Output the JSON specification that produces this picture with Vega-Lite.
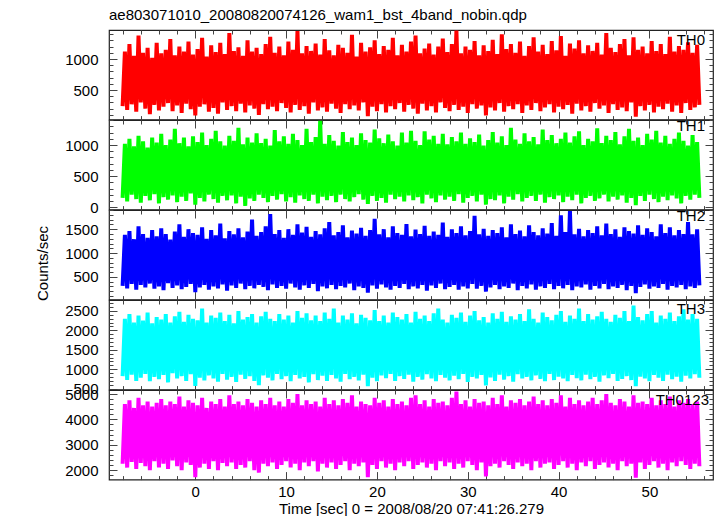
{
  "$schema": "https://vega.github.io/schema/vega-lite/v6.json",
  "background": "white",
  "padding": {"left": 35, "top": 7, "right": 6, "bottom": 0},
  "title": {"text": "ae803071010_20080820074126_wam1_bst_4band_nobin.qdp", "anchor": "start", "frame": "group", "font": "Liberation Sans", "fontSize": 15, "fontWeight": "normal", "color": "black", "offset": 4},
  "spacing": 0,
  "bounds": "flush",
  "data": {"values": [
{"t":-8,"a":240,"b":150,"c":310,"d":820,"e":2250},
{"t":-7.75,"a":1120,"b":1020,"c":1380,"d":2300,"e":4600},
{"t":-7.5,"a":180,"b":90,"c":260,"d":720,"e":2100},
{"t":-7.25,"a":1240,"b":1100,"c":1460,"d":2420,"e":4750},
{"t":-7,"a":270,"b":200,"c":350,"d":860,"e":2320},
{"t":-6.75,"a":1050,"b":980,"c":1290,"d":2200,"e":4450},
{"t":-6.5,"a":150,"b":130,"c":230,"d":700,"e":2050},
{"t":-6.25,"a":1380,"b":1150,"c":1560,"d":2380,"e":4850},
{"t":-6,"a":300,"b":70,"c":330,"d":780,"e":2280},
{"t":-5.75,"a":1100,"b":1060,"c":1400,"d":2250,"e":4550},
{"t":-5.5,"a":200,"b":180,"c":280,"d":880,"e":2150},
{"t":-5.25,"a":1180,"b":960,"c":1320,"d":2460,"e":4700},
{"t":-5,"a":110,"b":110,"c":360,"d":690,"e":2000},
{"t":-4.75,"a":1020,"b":1120,"c":1480,"d":2180,"e":4500},
{"t":-4.5,"a":260,"b":210,"c":250,"d":800,"e":2350},
{"t":-4.25,"a":1260,"b":1040,"c":1350,"d":2340,"e":4650},
{"t":-4,"a":170,"b":60,"c":300,"d":740,"e":2100},
{"t":-3.75,"a":1090,"b":1180,"c":1520,"d":2280,"e":4800},
{"t":-3.5,"a":230,"b":160,"c":220,"d":850,"e":2250},
{"t":-3.25,"a":1150,"b":1000,"c":1400,"d":2420,"e":4550},
{"t":-3,"a":290,"b":120,"c":370,"d":660,"e":2050},
{"t":-2.75,"a":1320,"b":1090,"c":1280,"d":2200,"e":4700},
{"t":-2.5,"a":160,"b":190,"c":270,"d":900,"e":2380},
{"t":-2.25,"a":1060,"b":1260,"c":1450,"d":2360,"e":4600},
{"t":-2,"a":250,"b":80,"c":320,"d":760,"e":2150},
{"t":-1.75,"a":1200,"b":1030,"c":1600,"d":2480,"e":4900},
{"t":-1.5,"a":130,"b":170,"c":240,"d":820,"e":2000},
{"t":-1.25,"a":1120,"b":1120,"c":1340,"d":2220,"e":4500},
{"t":-1,"a":280,"b":100,"c":290,"d":700,"e":2300},
{"t":-0.75,"a":1280,"b":980,"c":1500,"d":2400,"e":4750},
{"t":-0.5,"a":190,"b":220,"c":350,"d":870,"e":2200},
{"t":-0.25,"a":1070,"b":1140,"c":1420,"d":2300,"e":4650},
{"t":0,"a":90,"b":40,"c":180,"d":570,"e":1720},
{"t":0.25,"a":1160,"b":1050,"c":1380,"d":2260,"e":4550},
{"t":0.5,"a":230,"b":150,"c":280,"d":780,"e":2100},
{"t":0.75,"a":1340,"b":1200,"c":1540,"d":2560,"e":4850},
{"t":1,"a":270,"b":90,"c":330,"d":710,"e":2250},
{"t":1.25,"a":1040,"b":1000,"c":1300,"d":2200,"e":4450},
{"t":1.5,"a":150,"b":200,"c":230,"d":840,"e":2050},
{"t":1.75,"a":1220,"b":1100,"c":1480,"d":2380,"e":4700},
{"t":2,"a":210,"b":130,"c":300,"d":760,"e":2350},
{"t":2.25,"a":1110,"b":1230,"c":1370,"d":2320,"e":4600},
{"t":2.5,"a":120,"b":70,"c":260,"d":680,"e":2000},
{"t":2.75,"a":1260,"b":1060,"c":1620,"d":2460,"e":4800},
{"t":3,"a":300,"b":180,"c":340,"d":880,"e":2280},
{"t":3.25,"a":1080,"b":990,"c":1310,"d":2240,"e":4500},
{"t":3.5,"a":180,"b":110,"c":210,"d":730,"e":2150},
{"t":3.75,"a":1420,"b":1150,"c":1460,"d":2400,"e":4950},
{"t":4,"a":240,"b":190,"c":320,"d":800,"e":2300},
{"t":4.25,"a":1130,"b":1070,"c":1390,"d":2180,"e":4600},
{"t":4.5,"a":160,"b":60,"c":270,"d":670,"e":2050},
{"t":4.75,"a":1190,"b":1280,"c":1520,"d":2500,"e":4700},
{"t":5,"a":280,"b":170,"c":360,"d":860,"e":2200},
{"t":5.25,"a":1050,"b":1010,"c":1330,"d":2280,"e":4550},
{"t":5.5,"a":140,"b":20,"c":240,"d":750,"e":2100},
{"t":5.75,"a":1300,"b":1120,"c":1450,"d":2340,"e":4800},
{"t":6,"a":250,"b":140,"c":310,"d":820,"e":2350},
{"t":6.25,"a":1120,"b":1040,"c":1700,"d":2420,"e":4650},
{"t":6.5,"a":200,"b":100,"c":260,"d":700,"e":2000},
{"t":6.75,"a":1180,"b":1190,"c":1360,"d":2200,"e":4500},
{"t":7,"a":100,"b":200,"c":330,"d":590,"e":1900},
{"t":7.25,"a":1080,"b":1030,"c":1440,"d":2360,"e":4750},
{"t":7.5,"a":270,"b":150,"c":290,"d":840,"e":2250},
{"t":7.75,"a":1240,"b":1100,"c":1560,"d":2480,"e":4600},
{"t":8,"a":190,"b":80,"c":220,"d":780,"e":2150},
{"t":8.25,"a":1360,"b":990,"c":1820,"d":2300,"e":4850},
{"t":8.5,"a":230,"b":180,"c":340,"d":710,"e":2300},
{"t":8.75,"a":1100,"b":1240,"c":1400,"d":2240,"e":4550},
{"t":9,"a":160,"b":120,"c":270,"d":880,"e":2050},
{"t":9.25,"a":1200,"b":1060,"c":1480,"d":2420,"e":4700},
{"t":9.5,"a":290,"b":210,"c":310,"d":740,"e":2200},
{"t":9.75,"a":1060,"b":1140,"c":1320,"d":2280,"e":4500},
{"t":10,"a":210,"b":90,"c":250,"d":820,"e":2350},
{"t":10.25,"a":1280,"b":1020,"c":1500,"d":2380,"e":4800},
{"t":10.5,"a":140,"b":160,"c":360,"d":690,"e":2100},
{"t":10.75,"a":1150,"b":1180,"c":1380,"d":2200,"e":4650},
{"t":11,"a":260,"b":70,"c":280,"d":850,"e":2250},
{"t":11.25,"a":1450,"b":1080,"c":1600,"d":2500,"e":5000},
{"t":11.5,"a":180,"b":190,"c":230,"d":760,"e":2000},
{"t":11.75,"a":1090,"b":1000,"c":1430,"d":2320,"e":4550},
{"t":12,"a":240,"b":130,"c":320,"d":800,"e":2300},
{"t":12.25,"a":1210,"b":1260,"c":1550,"d":2440,"e":4750},
{"t":12.5,"a":120,"b":100,"c":270,"d":660,"e":2150},
{"t":12.75,"a":1130,"b":1050,"c":1340,"d":2260,"e":4600},
{"t":13,"a":300,"b":200,"c":350,"d":870,"e":2350},
{"t":13.25,"a":1250,"b":1130,"c":1460,"d":2380,"e":4700},
{"t":13.5,"a":170,"b":60,"c":200,"d":720,"e":1950},
{"t":13.75,"a":1070,"b":1390,"c":1390,"d":2240,"e":4500},
{"t":14,"a":220,"b":170,"c":300,"d":830,"e":2250},
{"t":14.25,"a":1320,"b":1020,"c":1520,"d":2460,"e":4850},
{"t":14.5,"a":150,"b":110,"c":260,"d":700,"e":2100},
{"t":14.75,"a":1140,"b":1160,"c":1650,"d":2300,"e":4600},
{"t":15,"a":280,"b":180,"c":330,"d":850,"e":2300},
{"t":15.25,"a":1060,"b":1070,"c":1370,"d":2560,"e":4750},
{"t":15.5,"a":200,"b":80,"c":240,"d":760,"e":2050},
{"t":15.75,"a":1230,"b":990,"c":1440,"d":2200,"e":4550},
{"t":16,"a":130,"b":200,"c":310,"d":680,"e":2200},
{"t":16.25,"a":1180,"b":1210,"c":1580,"d":2380,"e":4800},
{"t":16.5,"a":270,"b":130,"c":280,"d":880,"e":2350},
{"t":16.75,"a":1100,"b":1050,"c":1330,"d":2280,"e":4650},
{"t":17,"a":190,"b":90,"c":360,"d":740,"e":2000},
{"t":17.25,"a":1390,"b":1120,"c":1470,"d":2440,"e":4950},
{"t":17.5,"a":250,"b":160,"c":220,"d":800,"e":2250},
{"t":17.75,"a":1040,"b":1000,"c":1410,"d":2180,"e":4500},
{"t":18,"a":170,"b":210,"c":300,"d":710,"e":2150},
{"t":18.25,"a":1260,"b":1190,"c":1530,"d":2400,"e":4700},
{"t":18.5,"a":300,"b":120,"c":270,"d":860,"e":2300},
{"t":18.75,"a":1120,"b":1080,"c":1360,"d":2320,"e":4600},
{"t":19,"a":80,"b":50,"c":170,"d":560,"e":1720},
{"t":19.25,"a":1190,"b":1040,"c":1480,"d":2260,"e":4550},
{"t":19.5,"a":230,"b":180,"c":320,"d":780,"e":2200},
{"t":19.75,"a":1300,"b":1250,"c":1720,"d":2520,"e":4850},
{"t":20,"a":160,"b":100,"c":250,"d":690,"e":2050},
{"t":20.25,"a":1080,"b":1110,"c":1390,"d":2240,"e":4650},
{"t":20.5,"a":270,"b":150,"c":340,"d":840,"e":2350},
{"t":20.75,"a":1210,"b":1030,"c":1500,"d":2380,"e":4750},
{"t":21,"a":140,"b":70,"c":280,"d":770,"e":2100},
{"t":21.25,"a":1150,"b":1170,"c":1330,"d":2200,"e":4500},
{"t":21.5,"a":240,"b":200,"c":230,"d":880,"e":2250},
{"t":21.75,"a":1340,"b":1060,"c":1560,"d":2460,"e":4800},
{"t":22,"a":190,"b":130,"c":310,"d":700,"e":2000},
{"t":22.25,"a":1060,"b":990,"c":1420,"d":2340,"e":4600},
{"t":22.5,"a":290,"b":170,"c":270,"d":820,"e":2300},
{"t":22.75,"a":1230,"b":1200,"c":1380,"d":2280,"e":4700},
{"t":23,"a":150,"b":90,"c":350,"d":750,"e":2150},
{"t":23.25,"a":1120,"b":1040,"c":1610,"d":2420,"e":4550},
{"t":23.5,"a":260,"b":190,"c":240,"d":860,"e":2350},
{"t":23.75,"a":1280,"b":1230,"c":1350,"d":2200,"e":4850},
{"t":24,"a":200,"b":110,"c":300,"d":680,"e":2050},
{"t":24.25,"a":1380,"b":1070,"c":1490,"d":2480,"e":4950},
{"t":24.5,"a":120,"b":160,"c":260,"d":800,"e":2200},
{"t":24.75,"a":1090,"b":1000,"c":1400,"d":2300,"e":4600},
{"t":25,"a":280,"b":60,"c":330,"d":730,"e":2300},
{"t":25.25,"a":1170,"b":1220,"c":1570,"d":2380,"e":4750},
{"t":25.5,"a":170,"b":200,"c":210,"d":870,"e":2100},
{"t":25.75,"a":1250,"b":1090,"c":1360,"d":2240,"e":4500},
{"t":26,"a":240,"b":140,"c":320,"d":760,"e":2250},
{"t":26.25,"a":1070,"b":1150,"c":1450,"d":2440,"e":4800},
{"t":26.5,"a":140,"b":80,"c":270,"d":690,"e":2000},
{"t":26.75,"a":1200,"b":1020,"c":1380,"d":2560,"e":4650},
{"t":27,"a":300,"b":190,"c":360,"d":850,"e":2350},
{"t":27.25,"a":1330,"b":1180,"c":1640,"d":2280,"e":4700},
{"t":27.5,"a":210,"b":120,"c":240,"d":780,"e":2150},
{"t":27.75,"a":1110,"b":1010,"c":1340,"d":2200,"e":4550},
{"t":28,"a":160,"b":170,"c":290,"d":710,"e":2300},
{"t":28.25,"a":1240,"b":1130,"c":1500,"d":2400,"e":4850},
{"t":28.5,"a":260,"b":100,"c":330,"d":830,"e":2050},
{"t":28.75,"a":1460,"b":1060,"c":1420,"d":2320,"e":5100},
{"t":29,"a":180,"b":210,"c":230,"d":740,"e":2250},
{"t":29.25,"a":1090,"b":1200,"c":1560,"d":2460,"e":4600},
{"t":29.5,"a":230,"b":70,"c":300,"d":880,"e":2100},
{"t":29.75,"a":1200,"b":1020,"c":1370,"d":2220,"e":4750},
{"t":30,"a":130,"b":150,"c":260,"d":670,"e":2350},
{"t":30.25,"a":1150,"b":1110,"c":1460,"d":2380,"e":4500},
{"t":30.5,"a":270,"b":180,"c":350,"d":800,"e":2200},
{"t":30.75,"a":1290,"b":1050,"c":1780,"d":2500,"e":4800},
{"t":31,"a":200,"b":90,"c":250,"d":760,"e":2000},
{"t":31.25,"a":1060,"b":1170,"c":1390,"d":2260,"e":4650},
{"t":31.5,"a":250,"b":200,"c":310,"d":850,"e":2300},
{"t":31.75,"a":1220,"b":990,"c":1510,"d":2340,"e":4700},
{"t":32,"a":90,"b":40,"c":190,"d":580,"e":1750},
{"t":32.25,"a":1130,"b":1080,"c":1360,"d":2200,"e":4550},
{"t":32.5,"a":220,"b":130,"c":280,"d":790,"e":2150},
{"t":32.75,"a":1310,"b":1210,"c":1480,"d":2440,"e":4850},
{"t":33,"a":170,"b":110,"c":330,"d":700,"e":2250},
{"t":33.25,"a":1080,"b":1040,"c":1420,"d":2300,"e":4600},
{"t":33.5,"a":290,"b":190,"c":240,"d":860,"e":2100},
{"t":33.75,"a":1400,"b":1140,"c":1540,"d":2480,"e":4950},
{"t":34,"a":150,"b":60,"c":300,"d":730,"e":2350},
{"t":34.25,"a":1160,"b":1000,"c":1330,"d":2220,"e":4500},
{"t":34.5,"a":240,"b":170,"c":270,"d":820,"e":2200},
{"t":34.75,"a":1240,"b":1280,"c":1600,"d":2360,"e":4750},
{"t":35,"a":190,"b":120,"c":360,"d":680,"e":2050},
{"t":35.25,"a":1100,"b":1090,"c":1400,"d":2280,"e":4650},
{"t":35.5,"a":270,"b":210,"c":220,"d":870,"e":2300},
{"t":35.75,"a":1280,"b":1020,"c":1470,"d":2420,"e":4800},
{"t":36,"a":130,"b":90,"c":310,"d":760,"e":2150},
{"t":36.25,"a":1050,"b":1190,"c":1350,"d":2240,"e":4550},
{"t":36.5,"a":250,"b":150,"c":260,"d":800,"e":2250},
{"t":36.75,"a":1210,"b":1060,"c":1580,"d":2540,"e":4700},
{"t":37,"a":180,"b":180,"c":340,"d":710,"e":2000},
{"t":37.25,"a":1350,"b":1130,"c":1440,"d":2300,"e":4900},
{"t":37.5,"a":290,"b":100,"c":230,"d":840,"e":2350},
{"t":37.75,"a":1120,"b":1010,"c":1370,"d":2200,"e":4600},
{"t":38,"a":160,"b":200,"c":300,"d":750,"e":2100},
{"t":38.25,"a":1230,"b":1250,"c":1520,"d":2460,"e":4750},
{"t":38.5,"a":220,"b":70,"c":270,"d":690,"e":2250},
{"t":38.75,"a":1080,"b":1080,"c":1410,"d":2340,"e":4550},
{"t":39,"a":270,"b":160,"c":350,"d":880,"e":2300},
{"t":39.25,"a":1290,"b":1160,"c":1630,"d":2260,"e":4800},
{"t":39.5,"a":140,"b":130,"c":240,"d":720,"e":2050},
{"t":39.75,"a":1140,"b":1030,"c":1360,"d":2400,"e":4650},
{"t":40,"a":230,"b":190,"c":310,"d":810,"e":2200},
{"t":40.25,"a":1370,"b":1100,"c":1790,"d":2500,"e":4950},
{"t":40.5,"a":190,"b":80,"c":260,"d":760,"e":2350},
{"t":40.75,"a":1050,"b":1200,"c":1440,"d":2220,"e":4500},
{"t":41,"a":260,"b":170,"c":330,"d":690,"e":2100},
{"t":41.25,"a":1250,"b":1040,"c":1880,"d":2380,"e":4850},
{"t":41.5,"a":120,"b":110,"c":220,"d":850,"e":2250},
{"t":41.75,"a":1170,"b":1140,"c":1390,"d":2300,"e":4600},
{"t":42,"a":280,"b":200,"c":300,"d":770,"e":2000},
{"t":42.25,"a":1300,"b":1220,"c":1510,"d":2560,"e":4750},
{"t":42.5,"a":170,"b":60,"c":280,"d":710,"e":2300},
{"t":42.75,"a":1090,"b":1000,"c":1350,"d":2240,"e":4550},
{"t":43,"a":240,"b":150,"c":340,"d":860,"e":2150},
{"t":43.25,"a":1220,"b":1100,"c":1480,"d":2420,"e":4700},
{"t":43.5,"a":150,"b":180,"c":230,"d":740,"e":2350},
{"t":43.75,"a":1130,"b":1060,"c":1420,"d":2280,"e":4850},
{"t":44,"a":290,"b":100,"c":310,"d":800,"e":2050},
{"t":44.25,"a":1260,"b":1270,"c":1560,"d":2360,"e":4600},
{"t":44.5,"a":200,"b":140,"c":260,"d":680,"e":2200},
{"t":44.75,"a":1070,"b":1030,"c":1370,"d":2480,"e":4750},
{"t":45,"a":250,"b":200,"c":350,"d":840,"e":2300},
{"t":45.25,"a":1420,"b":1150,"c":1620,"d":2300,"e":5000},
{"t":45.5,"a":130,"b":90,"c":240,"d":770,"e":2100},
{"t":45.75,"a":1180,"b":1080,"c":1400,"d":2220,"e":4650},
{"t":46,"a":270,"b":170,"c":300,"d":880,"e":2250},
{"t":46.25,"a":1110,"b":1210,"c":1500,"d":2400,"e":4550},
{"t":46.5,"a":180,"b":120,"c":270,"d":700,"e":2000},
{"t":46.75,"a":1240,"b":1010,"c":1340,"d":2320,"e":4800},
{"t":47,"a":220,"b":190,"c":330,"d":750,"e":2350},
{"t":47.25,"a":1320,"b":1140,"c":1540,"d":2500,"e":4700},
{"t":47.5,"a":160,"b":70,"c":220,"d":820,"e":2150},
{"t":47.75,"a":1060,"b":1260,"c":1460,"d":2240,"e":4500},
{"t":48,"a":300,"b":150,"c":310,"d":720,"e":2250},
{"t":48.25,"a":1350,"b":1070,"c":1410,"d":2640,"e":4950},
{"t":48.5,"a":70,"b":30,"c":160,"d":560,"e":1700},
{"t":48.75,"a":1150,"b":1120,"c":1580,"d":2340,"e":4650},
{"t":49,"a":240,"b":180,"c":290,"d":810,"e":2300},
{"t":49.25,"a":1200,"b":1000,"c":1380,"d":2260,"e":4700},
{"t":49.5,"a":170,"b":100,"c":340,"d":760,"e":2050},
{"t":49.75,"a":1090,"b":1180,"c":1520,"d":2420,"e":4600},
{"t":50,"a":260,"b":200,"c":250,"d":690,"e":2200},
{"t":50.25,"a":1290,"b":1090,"c":1440,"d":2500,"e":4850},
{"t":50.5,"a":140,"b":130,"c":300,"d":850,"e":2350},
{"t":50.75,"a":1130,"b":1230,"c":1350,"d":2200,"e":4550},
{"t":51,"a":230,"b":80,"c":270,"d":780,"e":2100},
{"t":51.25,"a":1240,"b":1040,"c":1600,"d":2380,"e":4750},
{"t":51.5,"a":190,"b":170,"c":350,"d":700,"e":2250},
{"t":51.75,"a":1080,"b":1150,"c":1420,"d":2300,"e":4600},
{"t":52,"a":280,"b":110,"c":230,"d":860,"e":2000},
{"t":52.25,"a":1360,"b":1020,"c":1540,"d":2460,"e":4900},
{"t":52.5,"a":150,"b":190,"c":310,"d":740,"e":2300},
{"t":52.75,"a":1120,"b":1100,"c":1370,"d":2240,"e":4500},
{"t":53,"a":250,"b":140,"c":280,"d":810,"e":2150},
{"t":53.25,"a":1210,"b":1200,"c":1480,"d":2360,"e":4750},
{"t":53.5,"a":130,"b":60,"c":330,"d":680,"e":2350},
{"t":53.75,"a":1150,"b":1070,"c":1400,"d":2540,"e":4650},
{"t":54,"a":290,"b":180,"c":240,"d":830,"e":2200},
{"t":54.25,"a":1270,"b":990,"c":1650,"d":2280,"e":4800},
{"t":54.5,"a":180,"b":120,"c":300,"d":760,"e":2050},
{"t":54.75,"a":1100,"b":1160,"c":1390,"d":2420,"e":4600},
{"t":55,"a":220,"b":200,"c":270,"d":870,"e":2250},
{"t":55.25,"a":1230,"b":1050,"c":1500,"d":2300,"e":4700},
{"t":55.5,"a":260,"b":150,"c":320,"d":780,"e":2150}
  ]},
  "vconcat": [
    {
      "width": 604, "height": 89.6,
      "title": {"text": "TH0", "anchor": "end", "frame": "group", "orient": "top", "offset": -21, "dx": -8, "font": "Liberation Sans", "fontSize": 15, "fontWeight": "normal", "color": "black"},
      "layer": [
        {"mark": {"type": "line", "color": "#ff0000", "strokeWidth": 4, "strokeJoin": "bevel", "clip": true},
         "encoding": {
           "x": {"field": "t", "type": "quantitative", "scale": {"domain": [-9.5, 57], "nice": false, "zero": false},
                 "axis": {"values": [-8,-6,-4,-2,0,2,4,6,8,10,12,14,16,18,20,22,24,26,28,30,32,34,36,38,40,42,44,46,48,50,52,54,56], "labels": false, "title": null, "tickDash": {"condition": {"test": "datum.value % 10 === 0", "value": [9, 0]}, "value": [4, 20]}}},
           "y": {"field": "a", "type": "quantitative", "scale": {"domain": [23, 1468], "nice": false, "zero": false},
                 "axis": {"values": [100,200,300,400,500,600,700,800,900,1000,1100,1200,1300,1400], "format": "d", "labelExpr": "datum.value % 500 === 0 ? datum.label : ''", "title": null, "tickDash": {"condition": {"test": "datum.value % 500 === 0", "value": [9, 0]}, "value": [4, 20]}}}
         }},
        {"mark": {"type": "point", "opacity": 0},
         "encoding": {
           "x": {"field": "t", "type": "quantitative", "scale": {"domain": [-9.5, 57], "nice": false, "zero": false},
                 "axis": {"orient": "top", "values": [-8,-6,-4,-2,0,2,4,6,8,10,12,14,16,18,20,22,24,26,28,30,32,34,36,38,40,42,44,46,48,50,52,54,56], "labels": false, "title": null, "tickDash": {"condition": {"test": "datum.value % 10 === 0", "value": [9, 0]}, "value": [4, 20]}}},
           "y": {"field": "a", "type": "quantitative", "scale": {"domain": [23, 1468], "nice": false, "zero": false},
                 "axis": {"orient": "right", "values": [100,200,300,400,500,600,700,800,900,1000,1100,1200,1300,1400], "labels": false, "title": null, "tickDash": {"condition": {"test": "datum.value % 500 === 0", "value": [9, 0]}, "value": [4, 20]}}}
         }}
      ],
      "resolve": {"axis": {"x": "independent", "y": "independent"}}
    },
    {
      "width": 604, "height": 89.6,
      "title": {"text": "TH1", "anchor": "end", "frame": "group", "orient": "top", "offset": -21, "dx": -8, "font": "Liberation Sans", "fontSize": 15, "fontWeight": "normal", "color": "black"},
      "layer": [
        {"mark": {"type": "line", "color": "#00ff00", "strokeWidth": 4, "strokeJoin": "bevel", "clip": true},
         "encoding": {
           "x": {"field": "t", "type": "quantitative", "scale": {"domain": [-9.5, 57], "nice": false, "zero": false},
                 "axis": {"values": [-8,-6,-4,-2,0,2,4,6,8,10,12,14,16,18,20,22,24,26,28,30,32,34,36,38,40,42,44,46,48,50,52,54,56], "labels": false, "title": null, "tickDash": {"condition": {"test": "datum.value % 10 === 0", "value": [9, 0]}, "value": [4, 20]}}},
           "y": {"field": "b", "type": "quantitative", "scale": {"domain": [-40, 1404], "nice": false, "zero": false},
                 "axis": {"values": [0,100,200,300,400,500,600,700,800,900,1000,1100,1200,1300,1400], "format": "d", "labelExpr": "datum.value % 500 === 0 ? datum.label : ''", "title": null, "tickDash": {"condition": {"test": "datum.value % 500 === 0", "value": [9, 0]}, "value": [4, 20]}}}
         }},
        {"mark": {"type": "point", "opacity": 0},
         "encoding": {
           "x": {"field": "t", "type": "quantitative", "scale": {"domain": [-9.5, 57], "nice": false, "zero": false},
                 "axis": {"orient": "top", "values": [-8,-6,-4,-2,0,2,4,6,8,10,12,14,16,18,20,22,24,26,28,30,32,34,36,38,40,42,44,46,48,50,52,54,56], "labels": false, "title": null, "tickDash": {"condition": {"test": "datum.value % 10 === 0", "value": [9, 0]}, "value": [4, 20]}}},
           "y": {"field": "b", "type": "quantitative", "scale": {"domain": [-40, 1404], "nice": false, "zero": false},
                 "axis": {"orient": "right", "values": [0,100,200,300,400,500,600,700,800,900,1000,1100,1200,1300,1400], "labels": false, "title": null, "tickDash": {"condition": {"test": "datum.value % 500 === 0", "value": [9, 0]}, "value": [4, 20]}}}
         }}
      ],
      "resolve": {"axis": {"x": "independent", "y": "independent"}}
    },
    {
      "width": 604, "height": 89.6,
      "title": {"text": "TH2", "anchor": "end", "frame": "group", "orient": "top", "offset": -21, "dx": -8, "font": "Liberation Sans", "fontSize": 15, "fontWeight": "normal", "color": "black"},
      "layer": [
        {"mark": {"type": "line", "color": "#0000ff", "strokeWidth": 4, "strokeJoin": "bevel", "clip": true},
         "encoding": {
           "x": {"field": "t", "type": "quantitative", "scale": {"domain": [-9.5, 57], "nice": false, "zero": false},
                 "axis": {"values": [-8,-6,-4,-2,0,2,4,6,8,10,12,14,16,18,20,22,24,26,28,30,32,34,36,38,40,42,44,46,48,50,52,54,56], "labels": false, "title": null, "tickDash": {"condition": {"test": "datum.value % 10 === 0", "value": [9, 0]}, "value": [4, 20]}}},
           "y": {"field": "c", "type": "quantitative", "scale": {"domain": [23, 1903], "nice": false, "zero": false},
                 "axis": {"values": [100,200,300,400,500,600,700,800,900,1000,1100,1200,1300,1400,1500,1600,1700,1800,1900], "format": "d", "labelExpr": "datum.value % 500 === 0 ? datum.label : ''", "title": "Counts/sec", "titlePadding": 14, "titleY": 53, "tickDash": {"condition": {"test": "datum.value % 500 === 0", "value": [9, 0]}, "value": [4, 20]}}}
         }},
        {"mark": {"type": "point", "opacity": 0},
         "encoding": {
           "x": {"field": "t", "type": "quantitative", "scale": {"domain": [-9.5, 57], "nice": false, "zero": false},
                 "axis": {"orient": "top", "values": [-8,-6,-4,-2,0,2,4,6,8,10,12,14,16,18,20,22,24,26,28,30,32,34,36,38,40,42,44,46,48,50,52,54,56], "labels": false, "title": null, "tickDash": {"condition": {"test": "datum.value % 10 === 0", "value": [9, 0]}, "value": [4, 20]}}},
           "y": {"field": "c", "type": "quantitative", "scale": {"domain": [23, 1903], "nice": false, "zero": false},
                 "axis": {"orient": "right", "values": [100,200,300,400,500,600,700,800,900,1000,1100,1200,1300,1400,1500,1600,1700,1800,1900], "labels": false, "title": null, "tickDash": {"condition": {"test": "datum.value % 500 === 0", "value": [9, 0]}, "value": [4, 20]}}}
         }}
      ],
      "resolve": {"axis": {"x": "independent", "y": "independent"}}
    },
    {
      "width": 604, "height": 89.6,
      "title": {"text": "TH3", "anchor": "end", "frame": "group", "orient": "top", "offset": -21, "dx": -8, "font": "Liberation Sans", "fontSize": 15, "fontWeight": "normal", "color": "black"},
      "layer": [
        {"mark": {"type": "line", "color": "#00ffff", "strokeWidth": 4, "strokeJoin": "bevel", "clip": true},
         "encoding": {
           "x": {"field": "t", "type": "quantitative", "scale": {"domain": [-9.5, 57], "nice": false, "zero": false},
                 "axis": {"values": [-8,-6,-4,-2,0,2,4,6,8,10,12,14,16,18,20,22,24,26,28,30,32,34,36,38,40,42,44,46,48,50,52,54,56], "labels": false, "title": null, "tickDash": {"condition": {"test": "datum.value % 10 === 0", "value": [9, 0]}, "value": [4, 20]}}},
           "y": {"field": "d", "type": "quantitative", "scale": {"domain": [474, 2782], "nice": false, "zero": false},
                 "axis": {"values": [500,600,700,800,900,1000,1100,1200,1300,1400,1500,1600,1700,1800,1900,2000,2100,2200,2300,2400,2500,2600,2700], "format": "d", "labelExpr": "datum.value % 500 === 0 ? datum.label : ''", "title": null, "tickDash": {"condition": {"test": "datum.value % 500 === 0", "value": [9, 0]}, "value": [4, 20]}}}
         }},
        {"mark": {"type": "point", "opacity": 0},
         "encoding": {
           "x": {"field": "t", "type": "quantitative", "scale": {"domain": [-9.5, 57], "nice": false, "zero": false},
                 "axis": {"orient": "top", "values": [-8,-6,-4,-2,0,2,4,6,8,10,12,14,16,18,20,22,24,26,28,30,32,34,36,38,40,42,44,46,48,50,52,54,56], "labels": false, "title": null, "tickDash": {"condition": {"test": "datum.value % 10 === 0", "value": [9, 0]}, "value": [4, 20]}}},
           "y": {"field": "d", "type": "quantitative", "scale": {"domain": [474, 2782], "nice": false, "zero": false},
                 "axis": {"orient": "right", "values": [500,600,700,800,900,1000,1100,1200,1300,1400,1500,1600,1700,1800,1900,2000,2100,2200,2300,2400,2500,2600,2700], "labels": false, "title": null, "tickDash": {"condition": {"test": "datum.value % 500 === 0", "value": [9, 0]}, "value": [4, 20]}}}
         }}
      ],
      "resolve": {"axis": {"x": "independent", "y": "independent"}}
    },
    {
      "width": 604, "height": 89.6,
      "title": {"text": "TH0123", "anchor": "end", "frame": "group", "orient": "top", "offset": -21, "dx": -4, "font": "Liberation Sans", "fontSize": 15, "fontWeight": "normal", "color": "black"},
      "layer": [
        {"mark": {"type": "line", "color": "#ff00ff", "strokeWidth": 4, "strokeJoin": "bevel", "clip": true},
         "encoding": {
           "x": {"field": "t", "type": "quantitative", "scale": {"domain": [-9.5, 57], "nice": false, "zero": false},
                 "axis": {"values": [-8,-6,-4,-2,0,2,4,6,8,10,12,14,16,18,20,22,24,26,28,30,32,34,36,38,40,42,44,46,48,50,52,54,56], "labelExpr": "datum.value % 10 === 0 ? datum.label : ''", "title": "Time [sec] 0 = 2008/08/20 07:41:26.279", "tickDash": {"condition": {"test": "datum.value % 10 === 0", "value": [9, 0]}, "value": [4, 20]}}},
           "y": {"field": "e", "type": "quantitative", "scale": {"domain": [1625, 5158], "nice": false, "zero": false},
                 "axis": {"values": [1800,2000,2200,2400,2600,2800,3000,3200,3400,3600,3800,4000,4200,4400,4600,4800,5000], "format": "d", "labelExpr": "datum.value % 1000 === 0 ? datum.label : ''", "title": null, "tickDash": {"condition": {"test": "datum.value % 1000 === 0", "value": [9, 0]}, "value": [4, 20]}}}
         }},
        {"mark": {"type": "point", "opacity": 0},
         "encoding": {
           "x": {"field": "t", "type": "quantitative", "scale": {"domain": [-9.5, 57], "nice": false, "zero": false},
                 "axis": {"orient": "top", "values": [-8,-6,-4,-2,0,2,4,6,8,10,12,14,16,18,20,22,24,26,28,30,32,34,36,38,40,42,44,46,48,50,52,54,56], "labels": false, "title": null, "tickDash": {"condition": {"test": "datum.value % 10 === 0", "value": [9, 0]}, "value": [4, 20]}}},
           "y": {"field": "e", "type": "quantitative", "scale": {"domain": [1625, 5158], "nice": false, "zero": false},
                 "axis": {"orient": "right", "values": [1800,2000,2200,2400,2600,2800,3000,3200,3400,3600,3800,4000,4200,4400,4600,4800,5000], "labels": false, "title": null, "tickDash": {"condition": {"test": "datum.value % 1000 === 0", "value": [9, 0]}, "value": [4, 20]}}}
         }}
      ],
      "resolve": {"axis": {"x": "independent", "y": "independent"}}
    }
  ],
  "config": {
    "view": {"stroke": "#222222", "strokeWidth": 1.2},
    "axis": {
      "domain": false, "grid": false,
      "tickSize": -8, "tickColor": "#444444", "tickWidth": 1,
      "labelFont": "Liberation Sans", "labelFontSize": 15, "labelColor": "black",
      "labelOverlap": false, "labelFlush": false, "labelBound": false,
      "titleFont": "Liberation Sans", "titleFontSize": 15, "titleFontWeight": "normal", "titleColor": "black"
    },
    "axisY": {"labelPadding": 19},
    "axisX": {"labelPadding": 13, "titlePadding": 2}
  }
}
